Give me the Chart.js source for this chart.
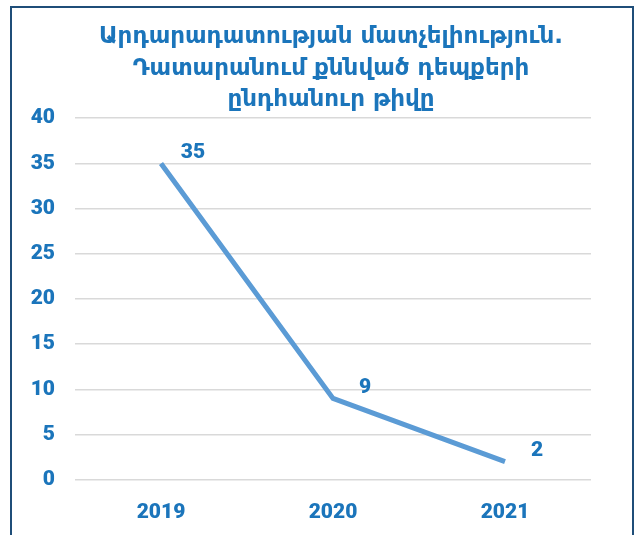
<!DOCTYPE html>
<html lang="hy">
<head>
<meta charset="UTF-8">
<title>Դատարանում քննված դեպքերի ընդհանուր թիվը</title>
<script src="https://cdn.jsdelivr.net/npm/chart.js"></script>
<style>
  body { margin: 0; background: #fff; overflow: hidden; }
  #box {
    position: absolute; left: 10px; top: 6px;
    width: 620px; height: 540px;
    border: 2px solid #1f4e79; background: #fff;
  }
  canvas { display: block; }
</style>
</head>
<body>
<div id="box"><canvas id="caseChart" width="620" height="527"></canvas></div>

<script>
const years = ['2019', '2020', '2021'];
const cases = [35, 9, 2];
const titleLines = [
  'Արդարադատության մատչելիություն.',
  'Դատարանում քննված դեպքերի',
  'ընդհանուր թիվը'
];

const blue = '#1b75bb';
const tickFont = { family: 'Roboto, Lato, sans-serif', size: 21, weight: '900' };

// numbers next to each point
const pointLabels = {
  id: 'pointLabels',
  afterDatasetsDraw(chart) {
    const ctx = chart.ctx;
    const meta = chart.getDatasetMeta(0);
    ctx.save();
    ctx.font = '900 21px Roboto, Lato, sans-serif';
    ctx.fillStyle = blue;
    ctx.textAlign = 'center';
    ctx.textBaseline = 'middle';
    meta.data.forEach((pt, i) => {
      ctx.fillText(cases[i], pt.x + 32, pt.y - 11);
    });
    ctx.restore();
  }
};

new Chart(document.getElementById('caseChart'), {
  type: 'line',
  data: {
    labels: years,
    datasets: [{
      data: cases,
      borderColor: '#5b9bd5',
      borderWidth: 5,
      pointRadius: 0,
      tension: 0,
      fill: false
    }]
  },
  options: {
    responsive: false,
    animation: false,
    layout: { padding: { left: 18, right: 0, top: 0, bottom: -10 } },
    plugins: {
      legend: { display: false },
      tooltip: { enabled: false },
      title: {
        display: true,
        text: titleLines,
        color: blue,
        font: { family: '"DejaVu Sans", sans-serif', size: 23, weight: 'bold', lineHeight: 1.38 },
        padding: { top: 13, bottom: 2 }
      }
    },
    scales: {
      x: {
        offset: true,
        grid: { display: false, drawTicks: false },
        border: { display: false },
        ticks: { color: blue, font: tickFont, padding: 20 }
      },
      y: {
        min: 0, max: 40,
        afterFit(axis) { axis.width = 45; },
        grid: { color: '#d9d9d9', lineWidth: 1.5, drawTicks: false },
        border: { display: false },
        ticks: { stepSize: 5, color: blue, font: tickFont, padding: 20 }
      },
      // empty axis that only keeps room on the right
      yRight: {
        position: 'right',
        min: 0, max: 40,
        afterFit(axis) { axis.width = 41; },
        grid: { display: false, drawTicks: false },
        border: { display: false },
        ticks: { display: false }
      }
    }
  },
  plugins: [pointLabels]
});
</script>
</body>
</html>
